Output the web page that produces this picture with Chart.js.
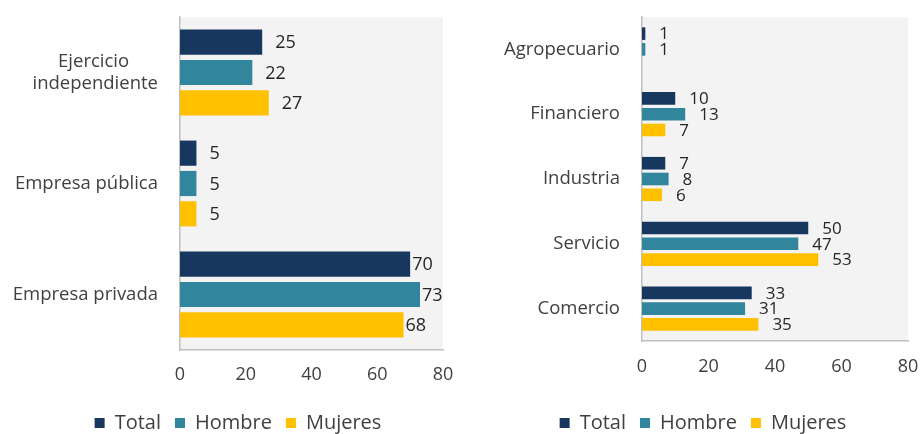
<!DOCTYPE html>
<html>
<head>
<meta charset="utf-8">
<script src="https://cdn.jsdelivr.net/npm/chart.js@4.4.1/dist/chart.umd.min.js"></script>
<style>
  html, body { margin: 0; padding: 0; background: #ffffff; overflow: hidden; }
  .box { position: absolute; top: 0; height: 443px; }
  #boxLeft { left: 0; width: 460px; }
  #boxRight { left: 460px; width: 461px; }
</style>
</head>
<body>
<div class="box" id="boxLeft"><canvas id="cLeft"></canvas></div>
<div class="box" id="boxRight"><canvas id="cRight"></canvas></div>
<script>
//-------------------Data-------------------
// trailing nbsp on 'Ejercicio' so it sits centred over 'independiente'
const leftLabels = [['Ejercicio\u00a0\u00a0\u00a0\u00a0\u00a0\u00a0', 'independiente'], 'Empresa pública', 'Empresa privada'];
const leftTotal = [25, 5, 70];
const leftHombre = [22, 5, 73];
const leftMujeres = [27, 5, 68];

const rightLabels = ['Agropecuario', 'Financiero', 'Industria', 'Servicio', 'Comercio'];
const rightTotal = [1, 10, 7, 50, 33];
const rightHombre = [1, 13, 8, 47, 31];
const rightMujeres = [null, 7, 6, 53, 35];

const seriesNames = ['Total', 'Hombre', 'Mujeres'];
const xTicks = [0, 20, 40, 60, 80];

//-------------------Styles-------------------
const colTotal = '#17375e';
const colHombre = '#31859c';
const colMujeres = '#ffc000';
const textCol = '#404040';
const fontFam = '"Open Sans", "DejaVu Sans", sans-serif';

//-------------------Plugins-------------------
const plotBg = {
  id: 'plotBg',
  beforeDraw(chart) {
    const a = chart.chartArea;
    const ctx = chart.ctx;
    ctx.save();
    ctx.fillStyle = '#f3f3f3';
    ctx.fillRect(a.left, a.top, a.right - a.left, a.bottom - a.top);
    ctx.restore();
  }
};

const valueLabels = {
  id: 'valueLabels',
  afterDatasetsDraw(chart, args, opts) {
    const ctx = chart.ctx;
    const a = chart.chartArea;
    ctx.save();
    ctx.font = opts.size + 'px ' + fontFam;
    ctx.fillStyle = '#262626';
    ctx.textAlign = 'left';
    ctx.textBaseline = 'middle';
    chart.data.datasets.forEach((ds, i) => {
      const meta = chart.getDatasetMeta(i);
      meta.data.forEach((bar, j) => {
        const v = ds.data[j];
        if (v === null || v === undefined) return;
        // long bars: label hugs the bar end like in the original
        let off = opts.offset;
        if (bar.x > a.left + 0.8 * (a.right - a.left)) off = 2;
        ctx.fillText(String(v), bar.x + off, bar.y + 1);
      });
    });
    ctx.restore();
  }
};

// nudge the legend sideways, the original is not centred on the canvas
const legendShift = {
  id: 'legendShift',
  afterLayout(chart, args, opts) {
    if (!chart.legend) return;
    chart.legend.left += opts.dx;
    chart.legend.right += opts.dx;
  }
};

// no extra room for overhanging tick labels, layout padding decides
function noScalePadding(s) {
  s.paddingLeft = 0;
  s.paddingRight = 0;
  s.paddingTop = 0;
  s.paddingBottom = 0;
}

//-------------------Functions-------------------
function makeChart(canvasId, labels, total, hombre, mujeres, cfg) {
  const ctx = document.getElementById(canvasId).getContext('2d');
  return new Chart(ctx, {
    type: 'bar',
    data: {
      labels: labels,
      datasets: [
        { label: seriesNames[0], data: total, backgroundColor: colTotal },
        { label: seriesNames[1], data: hombre, backgroundColor: colHombre },
        { label: seriesNames[2], data: mujeres, backgroundColor: colMujeres }
      ]
    },
    options: {
      indexAxis: 'y',
      responsive: true,
      maintainAspectRatio: false,
      animation: false,
      datasets: {
        bar: { categoryPercentage: cfg.catPct, barPercentage: cfg.barPct }
      },
      layout: { padding: { top: 17, right: cfg.padRight, left: 0, bottom: 0 } },
      scales: {
        x: {
          min: 0,
          max: 80,
          afterBuildTicks: (s) => { s.ticks = xTicks.map(v => ({ value: v })); },
          afterFit: (s) => { s.height = cfg.xHeight; noScalePadding(s); },
          grid: { display: false, drawTicks: false },
          border: { display: true, color: '#bfbfbf', width: 1.5 },
          ticks: { padding: cfg.xPad, color: textCol, font: { family: fontFam, size: 18 } }
        },
        y: {
          afterFit: (s) => { s.width = cfg.yWidth; noScalePadding(s); },
          grid: { display: false, drawTicks: false },
          border: { display: true, color: '#bfbfbf', width: 1.5 },
          ticks: { padding: 22, color: textCol, font: { family: fontFam, size: 18.5 } }
        }
      },
      plugins: {
        tooltip: { enabled: false },
        legend: {
          position: 'bottom',
          labels: {
            boxWidth: 10,
            boxHeight: 10,
            padding: 14,
            color: textCol,
            font: { family: fontFam, size: 20 }
          }
        },
        valueLabels: { size: cfg.labelSize, offset: cfg.labelOffset },
        legendShift: { dx: cfg.legendDx }
      }
    },
    plugins: [plotBg, valueLabels, legendShift]
  });
}

//-------------------Main Code-------------------
makeChart('cLeft', leftLabels, leftTotal, leftHombre, leftMujeres, {
  catPct: 0.82, barPct: 0.83, padRight: 17, yWidth: 180,
  xHeight: 49, xPad: 14, labelSize: 18, labelOffset: 13, legendDx: 16.5
});

makeChart('cRight', rightLabels, rightTotal, rightHombre, rightMujeres, {
  catPct: 0.73, barPct: 0.8, padRight: 13, yWidth: 182,
  xHeight: 58, xPad: 15, labelSize: 17, labelOffset: 14, legendDx: 19
});
</script>
</body>
</html>
